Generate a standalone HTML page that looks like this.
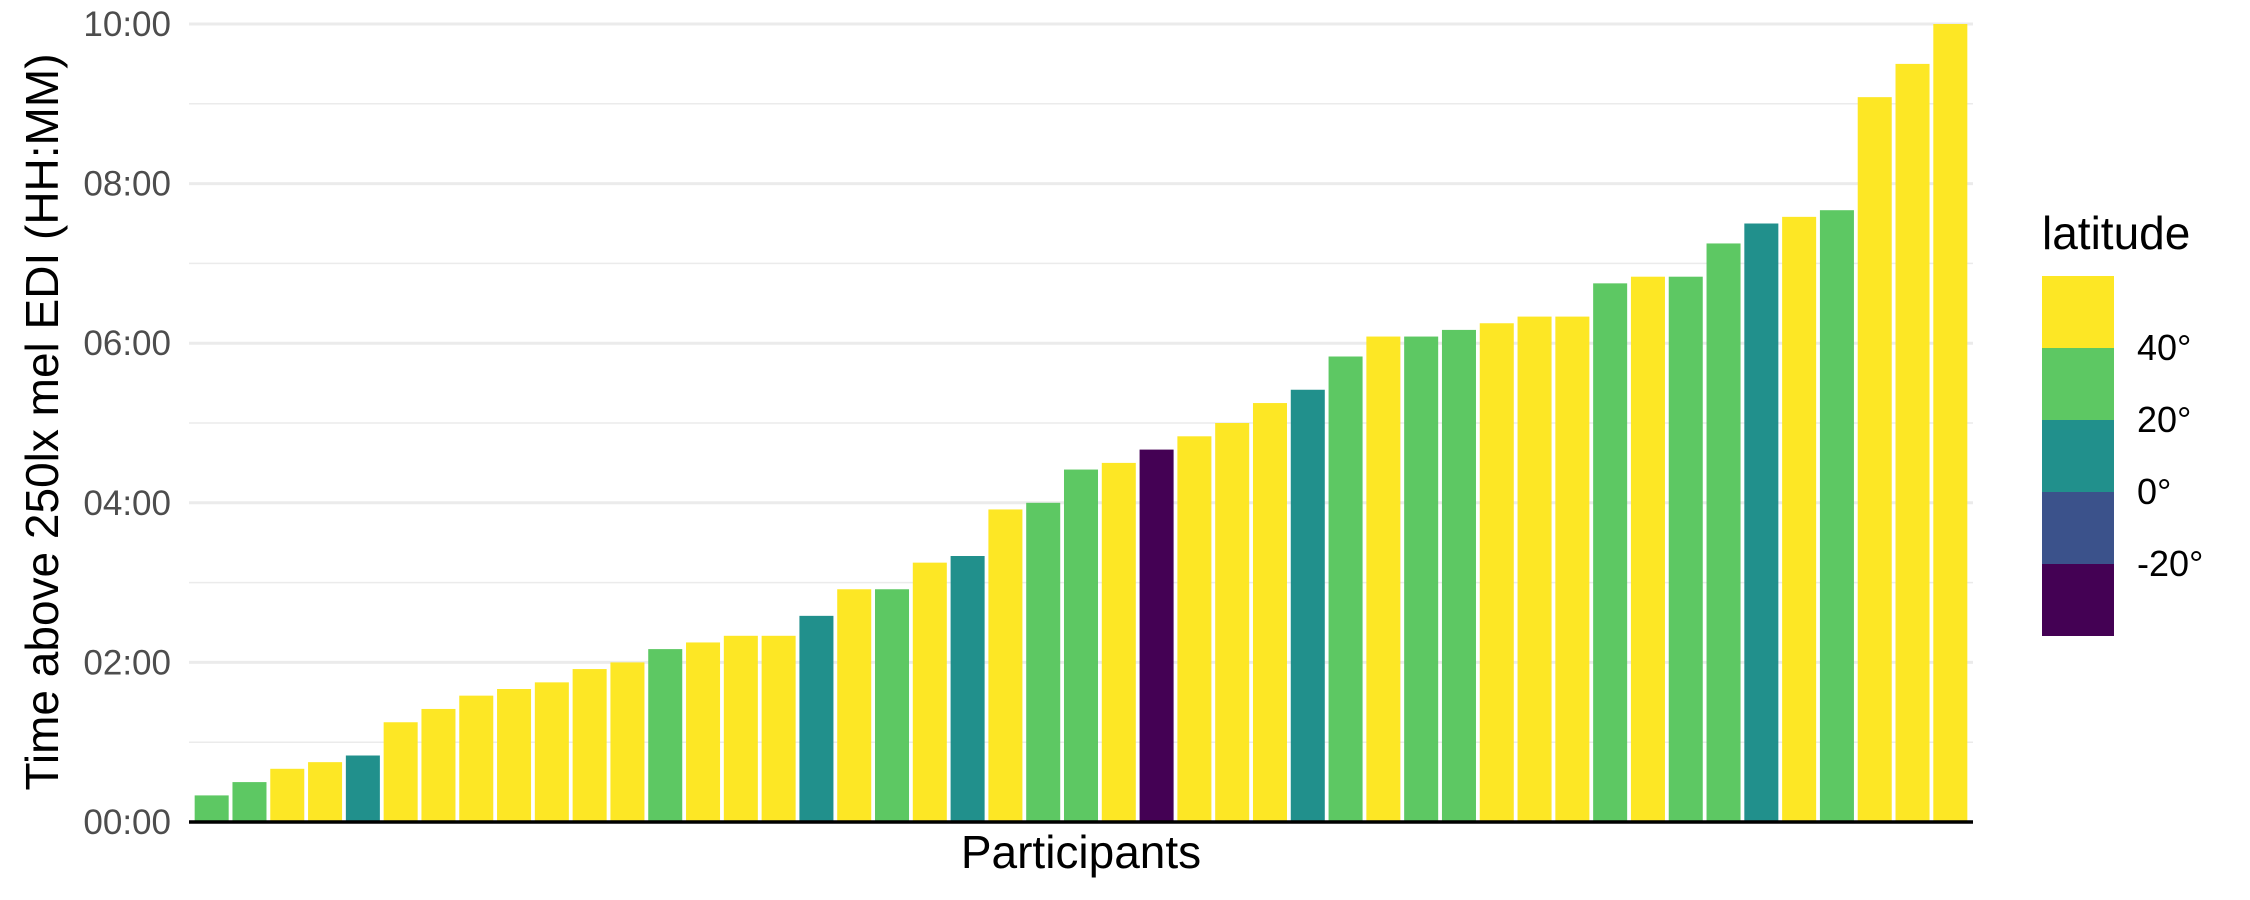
<!DOCTYPE html>
<html><head><meta charset="utf-8"><style>
body{margin:0;background:#fff}
svg{display:block;font-family:"Liberation Sans",sans-serif}
</style></head><body>
<svg id="chart" width="2250" height="900">
<g id="grid"></g>
<g id="bars"></g>
<g id="yticks"></g>
<line x1="189" x2="1973" y1="822" y2="822" stroke="#000" stroke-width="3.5"/>
<text x="1081" y="868" font-size="46" text-anchor="middle" fill="#000">Participants</text>
<text transform="translate(58,422) rotate(-90)" font-size="46" text-anchor="middle" fill="#000">Time above 250lx mel EDI (HH:MM)</text>
<g id="legend">
<text x="2042" y="249" font-size="46" fill="#000">latitude</text>
</g>
</svg>
<script>
const values=[20,30,40,45,50,75,85,95,100,105,115,120,130,135,140,140,155,175,175,195,200,235,240,265,270,280,290,300,315,325,350,365,365,370,375,380,380,405,410,410,435,450,455,460,545,570,600];
const groups=[3,3,4,4,2,4,4,4,4,4,4,4,3,4,4,4,2,4,3,4,2,4,3,3,4,0,4,4,4,2,3,4,3,3,4,4,4,3,4,3,3,2,4,3,4,4,4];
const palette=["#440154","#3B528B","#21908C","#5DC863","#FDE725"];
const yTicks=[0,120,240,360,480,600];
const yTickLabels=["00:00","02:00","04:00","06:00","08:00","10:00"];
const legendLabels=["40°","20°","0°","-20°"];
const NS="http://www.w3.org/2000/svg";
const x0=189,x1=1973,y0=822,y1=24;
const n=values.length,unit=(x1-x0)/(n+0.2);
const xs=i=>x0+unit*(0.1+i+0.5);
const ys=v=>y0-(v/600)*(y0-y1);
function mk(tag,attrs,parent){const e=document.createElementNS(NS,tag);for(const k in attrs)e.setAttribute(k,attrs[k]);parent.appendChild(e);return e;}
const grid=document.getElementById('grid'),bars=document.getElementById('bars'),yt=document.getElementById('yticks'),leg=document.getElementById('legend');
for(let m=60;m<=600;m+=120){const l=mk('line',{x1:x0,x2:x1,y1:ys(m),y2:ys(m),stroke:'#ebebeb','stroke-width':1.5},grid);

}
yTicks.forEach((t,i)=>{const l=mk('line',{x1:x0,x2:x1,y1:ys(t),y2:ys(t),stroke:'#ebebeb','stroke-width':3},grid);


const tx=mk('text',{x:171,y:ys(t)+12,'font-size':35,'text-anchor':'end',fill:'#4d4d4d'},yt);tx.textContent=yTickLabels[i];

});
values.forEach((v,i)=>{const w=unit*0.9;const r=mk('rect',{x:xs(i)-w/2,y:ys(v),width:w,height:y0-ys(v),fill:palette[groups[i]]},bars);

});
for(let k=0;k<5;k++){const r=mk('rect',{x:2042,y:276+72*k,width:72,height:72,fill:palette[4-k]},leg);

}
legendLabels.forEach((s,k)=>{const t=mk('text',{x:2137,y:348+72*k+12,'font-size':36,fill:'#000'},leg);t.textContent=s;

});
</script>
</body></html>
